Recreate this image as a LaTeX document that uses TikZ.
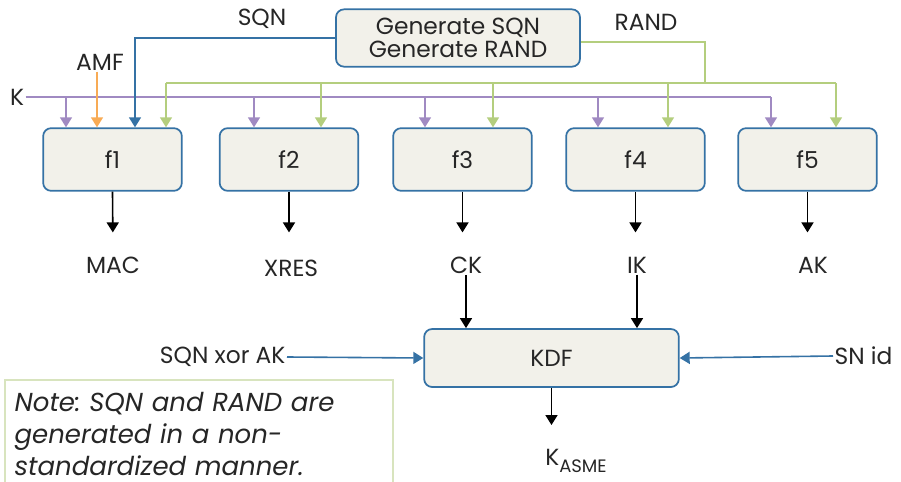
\documentclass[tikz,border=0pt]{standalone}
\usepackage{fontspec}
\setmainfont{Poppins}
\usepackage{tikz}
\usetikzlibrary{arrows.meta,positioning}
\frenchspacing

\definecolor{boxblue}{HTML}{3572A5}
\definecolor{boxfill}{HTML}{F2F1EA}
\definecolor{kpurple}{HTML}{A08AC2}
\definecolor{rgreen}{HTML}{B4CE7E}
\definecolor{amforange}{HTML}{F8AB55}
\definecolor{notegreen}{HTML}{D8E4BE}

\begin{document}
\begin{tikzpicture}[
  x=0.75pt, y=-0.75pt,
  every node/.style={font=\fontsize{17.5}{20}\selectfont, text=black!85},
  fbox/.style={draw=boxblue, line width=1.3pt, fill=boxfill, rounded corners=6pt,
    minimum width=104pt, minimum height=47pt},
  lab/.style={inner sep=1pt},
  tip/.style={-{Triangle[length=7.5pt,width=9pt]}},
  kline/.style={draw=kpurple, line width=1.2pt},
  rline/.style={draw=rgreen, line width=1.2pt},
  sline/.style={draw=boxblue, line width=1.2pt},
  oarrow/.style={tip, draw=black, line width=1.2pt}
]
\useasboundingbox (0,0) rectangle (901,482);

% boxes
\node[fbox, minimum width=183pt, minimum height=43pt, align=center] (gen) at (458,38)
  {Generate SQN\\[-3pt]Generate RAND};
\node[fbox] (f1) at (112.5,159.5) {f1};
\node[fbox] (f2) at (289,159.5) {f2};
\node[fbox] (f3) at (462.5,159.5) {f3};
\node[fbox] (f4) at (635.5,159.5) {f4};
\node[fbox] (f5) at (807.5,159.5) {f5};
\node[fbox, minimum width=191pt, minimum height=43.5pt] (kdf) at (551.5,358) {KDF};

% input labels
\node[lab] (K) at (17,97) {K};
\node[lab] (AMF) at (100,62) {AMF};
\node[lab] (SQN) at (262,19) {SQN};
\node[lab] (RAND) at (646,22) {RAND};
\node[lab, anchor=east] (xor) at (287,357) {SQN xor AK};
\node[lab, anchor=west] (snid) at (833,356) {SN id};

% output labels
\node[lab] (mac) at (113,265) {MAC};
\node[lab] (xres) at (291,268) {XRES};
\node[lab] (ck) at (466,265) {CK};
\node[lab] (ik) at (637,265) {IK};
\node[lab] (ak) at (813,265) {AK};
\node[lab] (kasme) at (576,461) {K\raisebox{-0.55ex}{\fontsize{13.5}{15}\selectfont ASME}};

% note (frame runs past the bottom edge)
\draw[notegreen, line width=0.9pt] (5,380) rectangle (393,500);
\node[anchor=north west, align=left, text width=280pt, inner xsep=7pt, inner ysep=0pt,
  yshift=-9pt, font=\fontsize{19.5}{24}\selectfont\itshape] (note) at (5,380)
  {Note: SQN and RAND are\\generated in a non-\\standardized manner.};

% K
\coordinate (kend) at (771,97);
\draw[kline] (K.east) -- (kend);
\foreach \f/\x in {f1/66, f2/254, f3/425, f4/598, f5/771}
  \draw[kline, tip] (\x,97) -- (\x,0 |- \f.north);

% AMF
\draw[draw=amforange, line width=1.2pt, tip] (AMF.south -| 97,0) -- (97,0 |- f1.north);

% SQN
\draw[sline, tip] (gen.west) -| (135,0 |- f1.north);

% RAND
\coordinate (rl) at (166,83);
\coordinate (rr) at (836,83);
\draw[rline] ([yshift=-3pt]gen.east) -| (705,83);
\draw[rline] (rl) -- (rr);
\foreach \f/\x in {f1/166, f2/321, f3/493, f4/668, f5/836}
  \draw[rline, tip] (\x,83) -- (\x,0 |- \f.north);

% outputs
\draw[oarrow, shorten >=17pt] (f1.south) -- (mac.north);
\draw[oarrow, shorten >=17pt] (f2.south) -- (f2.south |- mac.north);
\draw[oarrow, shorten >=17pt] (f3.south) -- (f3.south |- mac.north);
\draw[oarrow, shorten >=17pt] (f4.south) -- (f4.south |- mac.north);
\draw[oarrow, shorten >=17pt] (f5.south) -- (f5.south |- mac.north);

% KDF
\draw[oarrow] (ck.south) -- (ck.south |- kdf.north);
\draw[oarrow] (ik.south) -- (ik.south |- kdf.north);
\draw[sline, tip] (xor.east) -- (kdf.west);
\draw[sline, tip] (snid.west) -- (kdf.east);
\draw[oarrow, shorten >=17pt] (kdf.south) -- (kdf.south |- kasme.north);
\end{tikzpicture}
\end{document}
